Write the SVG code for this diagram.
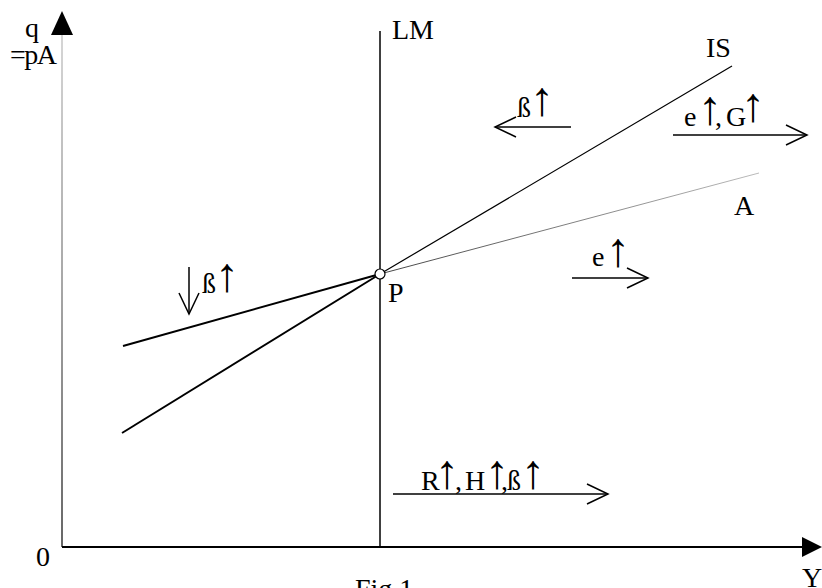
<svg xmlns="http://www.w3.org/2000/svg" width="822" height="588" viewBox="0 0 822 588">
<style>
  .t { font-family: "Liberation Serif", "Times New Roman", serif; font-size: 28px; fill: #000; }
  .arr { font-family: "Liberation Sans", Arial, sans-serif; font-size: 48px; font-weight: bold; }
  .ln { stroke: #000; fill: none; }
  .sh { stroke: #000; stroke-width: 1.5; fill: none; marker-end: url(#open); }
</style>
<defs>
  <marker id="open" markerUnits="userSpaceOnUse" markerWidth="30" markerHeight="30" refX="0" refY="0" viewBox="-25 -15 30 30" orient="auto" overflow="visible">
    <path d="M -21 -10 L 0 0 L -21 10" fill="none" stroke="#000" stroke-width="1.5"/>
  </marker>
  <linearGradient id="yg" gradientUnits="userSpaceOnUse" x1="0" y1="35" x2="0" y2="547">
    <stop offset="0" stop-color="#c8c8c8"/>
    <stop offset="0.5" stop-color="#888"/>
    <stop offset="1" stop-color="#333"/>
  </linearGradient>
  <linearGradient id="ag" gradientUnits="userSpaceOnUse" x1="380" y1="0" x2="760" y2="0">
    <stop offset="0" stop-color="#444"/>
    <stop offset="1" stop-color="#bbb"/>
  </linearGradient>
</defs>

<g id="axes">
  <line x1="62" y1="35" x2="62" y2="547" stroke="url(#yg)" stroke-width="1.5"/>
  <polygon points="51,35 62,11 73,35" fill="#000"/>
  <line x1="62" y1="547" x2="804" y2="547" stroke="#000" stroke-width="2"/>
  <polygon points="802,537 822,547 802,557" fill="#000"/>
  <text class="t" x="25" y="37">q</text>
  <text class="t" x="10" y="64" letter-spacing="-1.5">=pA</text>
  <text class="t" x="36" y="566">0</text>
  <text class="t" x="802" y="587">Y</text>
  <text class="t" x="355" y="598">Fig.1</text>
</g>

<g id="LM">
  <line class="ln" x1="380" y1="31" x2="380" y2="547" stroke-width="1.5"/>
  <text class="t" x="392" y="39">LM</text>
</g>

<g id="IS">
  <line class="ln" x1="122" y1="433" x2="380" y2="274" stroke-width="2"/>
  <line class="ln" x1="380" y1="274" x2="732" y2="66" stroke-width="1.2"/>
  <text class="t" x="706" y="57">IS</text>
</g>

<g id="A">
  <line class="ln" x1="123" y1="346" x2="380" y2="274" stroke-width="2"/>
  <line x1="380" y1="274" x2="759" y2="173" stroke="url(#ag)" stroke-width="1"/>
  <text class="t" x="734" y="215">A</text>
</g>

<g id="P">
  <circle cx="380" cy="274" r="5" fill="#fff" stroke="#000" stroke-width="1.2"/>
  <text class="t" x="388" y="302">P</text>
</g>

<g id="connectors">
  <line class="sh" x1="571" y1="127" x2="495" y2="127"/>
  <line class="sh" x1="673" y1="135" x2="807" y2="135"/>
  <line class="sh" x1="572" y1="278" x2="648" y2="278"/>
  <line class="sh" x1="393" y1="494" x2="608" y2="494"/>
  <line class="sh" x1="189" y1="267" x2="189" y2="314"/>
</g>

<g id="labels">
  <text class="t" x="517" y="117">ß<tspan class="arr" x="542" y="115" text-anchor="middle">↑</tspan></text>
  <text class="t" x="684" y="126">e<tspan class="arr" x="710" y="124" text-anchor="middle">↑</tspan><tspan x="715" y="126">,</tspan><tspan x="726" y="126">G</tspan><tspan class="arr" x="753" y="121" text-anchor="middle">↑</tspan></text>
  <text class="t" x="202" y="293">ß<tspan class="arr" x="227" y="291" text-anchor="middle">↑</tspan></text>
  <text class="t" x="592" y="266">e<tspan class="arr" x="618" y="266" text-anchor="middle">↑</tspan></text>
  <text class="t" x="421" y="490">R<tspan class="arr" x="447" y="488" text-anchor="middle">↑</tspan><tspan x="455" y="490">,</tspan><tspan x="465" y="490">H</tspan><tspan class="arr" x="497" y="488" text-anchor="middle">↑</tspan><tspan x="501" y="490">,</tspan><tspan x="507" y="490">ß</tspan><tspan class="arr" x="533" y="488" text-anchor="middle">↑</tspan></text>
</g>
</svg>
